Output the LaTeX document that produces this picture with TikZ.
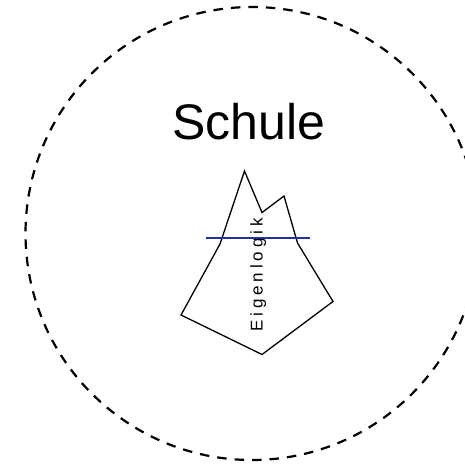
\documentclass[tikz,border=0pt]{standalone}
\usepackage{fontspec}
\setmainfont{Liberation Sans}
\newfontfamily\spaced[LetterSpace=23]{Liberation Sans}
\definecolor{wlblue}{RGB}{30,50,160}
\tikzset{
  outline/.style={draw=black,line width=1.3pt,line join=miter},
  boundary/.style={draw=black,line width=2.2pt,dash pattern=on 9.5pt off 8pt},
  bluerule/.style={wlblue,line width=2pt},
  title/.style={font=\fontsize{50}{50}\selectfont,inner sep=0pt},
  vlabel/.style={font=\fontsize{17}{17}\spaced,inner sep=0pt,rotate=90,anchor=base}
}
\begin{document}
\begin{tikzpicture}[x=1pt,y=-1pt]
\useasboundingbox (0,0) rectangle (465,465);
\clip (0,0) rectangle (465,465);
\draw[boundary] (252,233.5) circle[radius=226.5pt];
\draw[outline] (244.5,171) -- (262,212.5) -- (284,196) -- (297.5,243) -- (333,301.5) -- (262,354.5) -- (181,315) -- (220,244) -- cycle;
\node[title] (schule) at (248.5,122) {Schule};
\node[vlabel] (eigen) at (262.5,275) {Eigenlogik};
\coordinate (wl) at (206,237.5);
\coordinate (wr) at (310,237.5);
\draw[bluerule] (wl) -- (wr);
\end{tikzpicture}
\end{document}
